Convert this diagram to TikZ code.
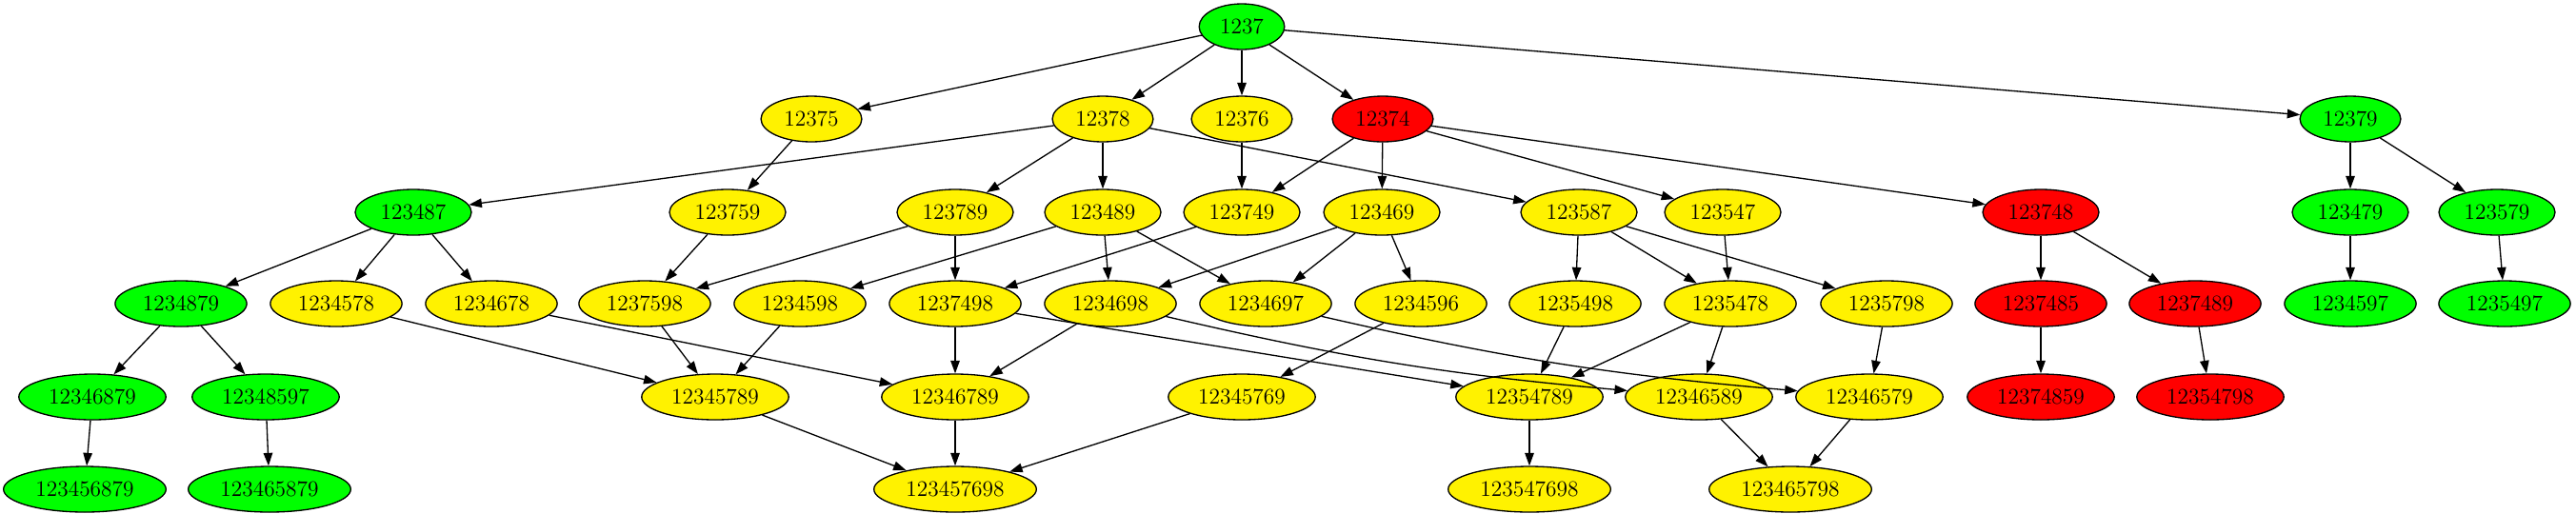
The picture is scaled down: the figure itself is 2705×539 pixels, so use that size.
\documentclass[tikz,border=0pt]{standalone}
\usetikzlibrary{shapes.geometric,arrows.meta}
\begin{document}
\begin{tikzpicture}[x=0.02cm,y=-0.02cm,
    st/.style={ellipse,draw,line width=0.75pt,inner xsep=0.176cm,minimum height=0.96cm,
      font=\fontsize{13.3}{16}\selectfont},
    gr/.style={st,fill=green},
    ye/.style={st,fill=yellow},
    re/.style={st,fill=red},
    arr/.style={-{Triangle[length=0.27cm,width=0.19cm]},line width=0.75pt}]
  \useasboundingbox (0,0) rectangle (2705,539);
  % rank 0 and 1
  \node[gr] (n1237) at (1304,28) {1237};
  \node[ye] (n12375) at (852,125) {12375};
  \node[ye] (n12378) at (1158,125) {12378};
  \node[ye] (n12376) at (1304,125) {12376};
  \node[re] (n12374) at (1452,125) {12374};
  \node[gr] (n12379) at (2468,125) {12379};
  % rank 2
  \node[gr] (n123487) at (434,223) {123487};
  \node[ye] (n123759) at (764,223) {123759};
  \node[ye] (n123789) at (1003,223) {123789};
  \node[ye] (n123489) at (1158,223) {123489};
  \node[ye] (n123749) at (1304,223) {123749};
  \node[ye] (n123469) at (1451,223) {123469};
  \node[ye] (n123587) at (1658,223) {123587};
  \node[ye] (n123547) at (1809,223) {123547};
  \node[re] (n123748) at (2143,223) {123748};
  \node[gr] (n123479) at (2468,223) {123479};
  \node[gr] (n123579) at (2622,223) {123579};
  % rank 3
  \node[gr] (n1234879) at (190,319) {1234879};
  \node[ye] (n1234578) at (353,319) {1234578};
  \node[ye] (n1234678) at (516,319) {1234678};
  \node[ye] (n1237598) at (677,319) {1237598};
  \node[ye] (n1234598) at (840,319) {1234598};
  \node[ye] (n1237498) at (1003,319) {1237498};
  \node[ye] (n1234698) at (1166,319) {1234698};
  \node[ye] (n1234697) at (1329,319) {1234697};
  \node[ye] (n1234596) at (1492,319) {1234596};
  \node[ye] (n1235498) at (1654,319) {1235498};
  \node[ye] (n1235478) at (1817,319) {1235478};
  \node[ye] (n1235798) at (1981,319) {1235798};
  \node[re] (n1237485) at (2143,319) {1237485};
  \node[re] (n1237489) at (2305,319) {1237489};
  \node[gr] (n1234597) at (2468,319) {1234597};
  \node[gr] (n1235497) at (2630,319) {1235497};
  % rank 4
  \node[gr] (n12346879) at (97,417) {12346879};
  \node[gr] (n12348597) at (279,417) {12348597};
  \node[ye] (n12345789) at (751,417) {12345789};
  \node[ye] (n12346789) at (1003,417) {12346789};
  \node[ye] (n12345769) at (1304,417) {12345769};
  \node[ye] (n12354789) at (1606,417) {12354789};
  \node[ye] (n12346589) at (1784,417) {12346589};
  \node[ye] (n12346579) at (1963,417) {12346579};
  \node[re] (n12374859) at (2143,417) {12374859};
  \node[re] (n12354798) at (2321,417) {12354798};
  % rank 5
  \node[gr] (n123456879) at (89,514) {123456879};
  \node[gr] (n123465879) at (283,514) {123465879};
  \node[ye] (n123457698) at (1003,514) {123457698};
  \node[ye] (n123547698) at (1606,514) {123547698};
  \node[ye] (n123465798) at (1880,514) {123465798};
  % edges
  \draw[arr] (n1237) -- (n12375);
  \draw[arr] (n1237) -- (n12378);
  \draw[arr] (n1237) -- (n12376);
  \draw[arr] (n1237) -- (n12374);
  \draw[arr] (n1237) -- (n12379);
  \draw[arr] (n12375) -- (n123759);
  \draw[arr] (n12378) -- (n123487);
  \draw[arr] (n12378) -- (n123789);
  \draw[arr] (n12378) -- (n123489);
  \draw[arr] (n12378) -- (n123587);
  \draw[arr] (n12376) -- (n123749);
  \draw[arr] (n12374) -- (n123749);
  \draw[arr] (n12374) -- (n123469);
  \draw[arr] (n12374) -- (n123547);
  \draw[arr] (n12374) -- (n123748);
  \draw[arr] (n12379) -- (n123479);
  \draw[arr] (n12379) -- (n123579);
  \draw[arr] (n123487) -- (n1234879);
  \draw[arr] (n123487) -- (n1234578);
  \draw[arr] (n123487) -- (n1234678);
  \draw[arr] (n123759) -- (n1237598);
  \draw[arr] (n123789) -- (n1237598);
  \draw[arr] (n123789) -- (n1237498);
  \draw[arr] (n123489) -- (n1234598);
  \draw[arr] (n123489) -- (n1234698);
  \draw[arr] (n123489) -- (n1234697);
  \draw[arr] (n123749) -- (n1237498);
  \draw[arr] (n123469) -- (n1234698);
  \draw[arr] (n123469) -- (n1234697);
  \draw[arr] (n123469) -- (n1234596);
  \draw[arr] (n123587) -- (n1235498);
  \draw[arr] (n123587) -- (n1235478);
  \draw[arr] (n123587) -- (n1235798);
  \draw[arr] (n123547) -- (n1235478);
  \draw[arr] (n123748) -- (n1237485);
  \draw[arr] (n123748) -- (n1237489);
  \draw[arr] (n123479) -- (n1234597);
  \draw[arr] (n123579) -- (n1235497);
  \draw[arr] (n1234879) -- (n12346879);
  \draw[arr] (n1234879) -- (n12348597);
  \draw[arr] (n1234578) -- (n12345789);
  \draw[arr] (n1234678) -- (n12346789);
  \draw[arr] (n1237598) -- (n12345789);
  \draw[arr] (n1234598) -- (n12345789);
  \draw[arr] (n1237498) -- (n12346789);
  \draw[arr] (n1237498) -- (n12354789);
  \draw[arr] (n1234698) -- (n12346789);
  \draw[arr] (n1234698) to[bend right=4] (n12346589);
  \draw[arr] (n1234697) to[bend right=4] (n12346579);
  \draw[arr] (n1234596) -- (n12345769);
  \draw[arr] (n1235498) -- (n12354789);
  \draw[arr] (n1235478) -- (n12354789);
  \draw[arr] (n1235478) -- (n12346589);
  \draw[arr] (n1235798) -- (n12346579);
  \draw[arr] (n1237485) -- (n12374859);
  \draw[arr] (n1237489) -- (n12354798);
  \draw[arr] (n12346879) -- (n123456879);
  \draw[arr] (n12348597) -- (n123465879);
  \draw[arr] (n12345789) -- (n123457698);
  \draw[arr] (n12346789) -- (n123457698);
  \draw[arr] (n12345769) -- (n123457698);
  \draw[arr] (n12354789) -- (n123547698);
  \draw[arr] (n12346589) -- (n123465798);
  \draw[arr] (n12346579) -- (n123465798);
\end{tikzpicture}
\end{document}
